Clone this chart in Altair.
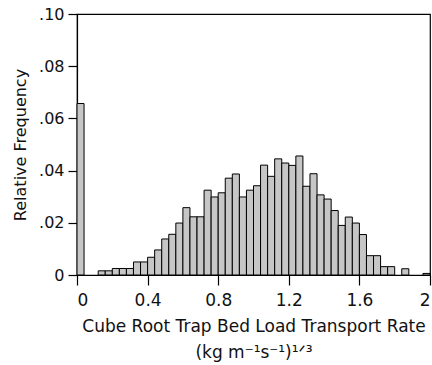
import altair as alt
import pandas as pd

# Histogram bins (left edges) of cube-root trap bed load transport rate, width 0.04
bin_start = [0.00, 0.04, 0.08, 0.12, 0.16, 0.20, 0.24, 0.28, 0.32, 0.36,
             0.40, 0.44, 0.48, 0.52, 0.56, 0.60, 0.64, 0.68, 0.72, 0.76,
             0.80, 0.84, 0.88, 0.92, 0.96, 1.00, 1.04, 1.08, 1.12, 1.16,
             1.20, 1.24, 1.28, 1.32, 1.36, 1.40, 1.44, 1.48, 1.52, 1.56,
             1.60, 1.64, 1.68, 1.72, 1.76, 1.80, 1.84, 1.88, 1.92, 1.96]
bin_width = 0.04

# Relative frequency per bin
rel_freq = [0.0657, 0.0, 0.0, 0.0016, 0.0016, 0.0025, 0.0025, 0.0025, 0.0050, 0.0050,
            0.0068, 0.0096, 0.0138, 0.0156, 0.0199, 0.0258, 0.0223, 0.0223, 0.0325, 0.0299,
            0.0315, 0.0371, 0.0387, 0.0299, 0.0325, 0.0342, 0.0421, 0.0378, 0.0445, 0.0429,
            0.0420, 0.0456, 0.0340, 0.0388, 0.0307, 0.0291, 0.0247, 0.0190, 0.0222, 0.0199,
            0.0155, 0.0074, 0.0074, 0.0032, 0.0032, 0.0, 0.0024, 0.0, 0.0, 0.0006]

x_ticks = [0, 0.4, 0.8, 1.2, 1.6, 2]
y_ticks = [0, 0.02, 0.04, 0.06, 0.08, 0.10]

x_title = ["Cube Root Trap Bed Load Transport Rate", "(kg m\u207b\u00b9s\u207b\u00b9)\u00b9\u141f\u00b3"]
y_title = "Relative Frequency"

df = pd.DataFrame({"start": bin_start, "freq": rel_freq})
df["end"] = df["start"] + bin_width
df = df[df["freq"] > 0]

FONT = "DejaVu Sans"

chart = alt.Chart(df).mark_rect(
    fill="#c6c6c6", stroke="black", strokeWidth=1
).encode(
    x=alt.X(
        "start:Q",
        scale=alt.Scale(domain=[0, 2], nice=False, zero=False),
        axis=alt.Axis(
            values=x_ticks,
            format="~g",
            title=x_title,
            tickSize=10,
            tickWidth=1.2,
            labelPadding=7,
            labelFontSize=17,
            titleFontSize=17,
            titleLineHeight=26,
            titlePadding=10,
            titleFontWeight="normal",
        ),
    ),
    x2="end:Q",
    y=alt.Y(
        "freq:Q",
        scale=alt.Scale(domain=[0, 0.1], nice=False),
        axis=alt.Axis(
            values=y_ticks,
            labelExpr="datum.value == 0 ? '0' : substring(format(datum.value, '.2f'), 1)",
            title=y_title,
            tickSize=9,
            tickWidth=1.2,
            labelPadding=4,
            labelFontSize=16,
            titleFontSize=16,
            titlePadding=10,
            titleFontWeight="normal",
        ),
    ),
    y2=alt.datum(0),
).properties(
    width=353,
    height=261,
    background="white",
    autosize=alt.AutoSizeParams(type="none"),
    padding={"left": 77, "top": 14, "right": 2, "bottom": 90},
).configure_view(
    stroke="black", strokeWidth=1.2
).configure_axis(
    grid=False,
    domainColor="black",
    domainWidth=1.2,
    tickColor="black",
    labelColor="#111",
    titleColor="#111",
    labelFont=FONT,
    titleFont=FONT,
)

chart.save("out.html", embed_options={"renderer": "svg", "actions": False})
